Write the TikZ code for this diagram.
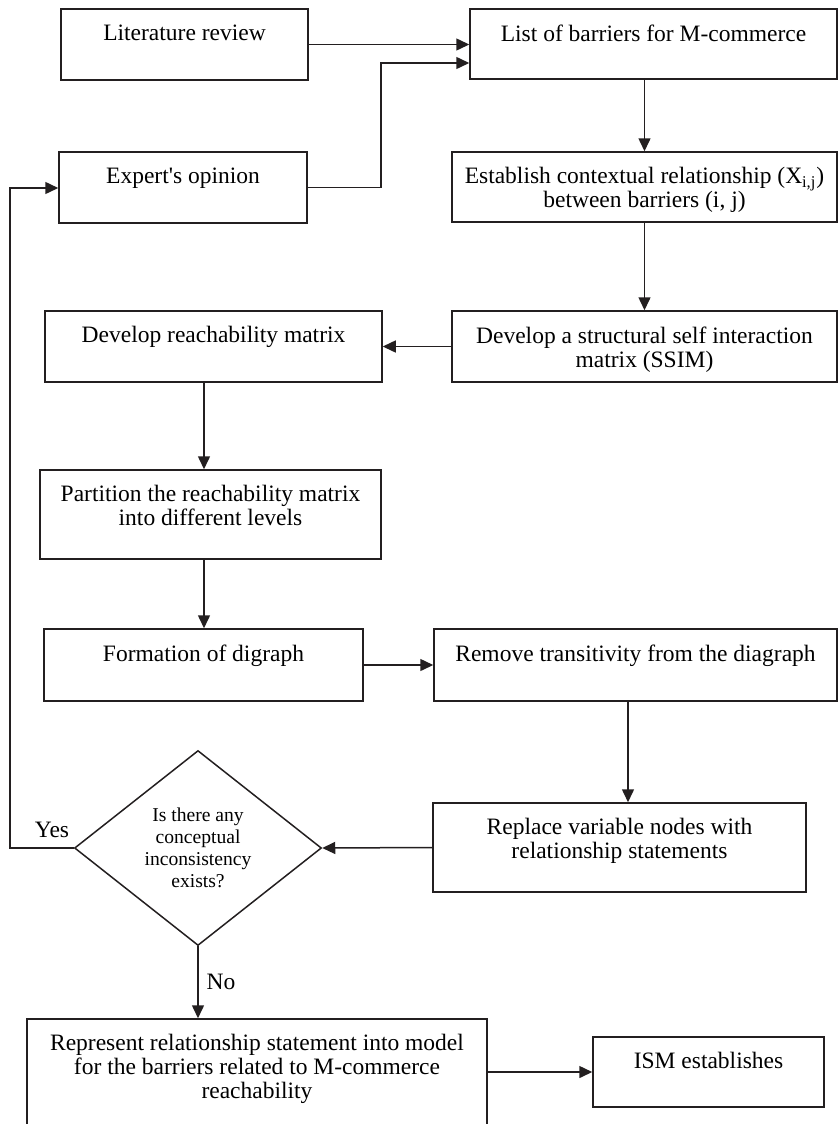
\documentclass[tikz,border=0pt]{standalone}
\usepackage{fontspec}
\setmainfont{Liberation Serif}
\usetikzlibrary{arrows.meta}
\usetikzlibrary{shapes.geometric}
\usetikzlibrary{calc}
\definecolor{ink}{HTML}{231F20}
\tikzstyle{stepbox}=[draw=ink, line width=0.75pt, shape=rectangle, inner sep=0pt]
\tikzstyle{boxtext}=[anchor=north, inner sep=0pt, yshift=-8pt, align=center, text=black, font=\fontsize{11.75}{12}\selectfont]
\tikzstyle{decnode}=[draw=ink, line width=0.75pt, shape=diamond, aspect=1.27, inner sep=0pt, minimum width=123.5pt, minimum height=97.5pt, align=center, font=\fontsize{9.8}{10.9}\selectfont]
\tikzstyle{answer}=[inner sep=0pt, text=black, font=\fontsize{11.75}{12}\selectfont]
\tikzstyle{flow}=[-{Triangle[length=6.5pt, width=6pt]}, line width=0.75pt, draw=ink]

\begin{document}
\begin{tikzpicture}[x=0.5pt, y=-0.5pt]
\useasboundingbox (0,0) rectangle (838,1124);
\clip (0,0) rectangle (838,1124);

\node [stepbox, minimum width=123.5pt, minimum height=35.5pt, label={[boxtext]north:Literature review}] (lit) at (184.5,44.5) {};
\node [stepbox, minimum width=183.5pt, minimum height=35pt, label={[boxtext]north:List of barriers for M-commerce}] (list) at (653.5,44) {};
\node [stepbox, minimum width=124pt, minimum height=35.5pt, label={[boxtext]north:Expert\textquotesingle s opinion}] (expert) at (183,187.5) {};
\node [stepbox, minimum width=192.5pt, minimum height=35pt, label={[boxtext]north:{Establish contextual relationship (X\textsubscript{i,j})\\between barriers (i, j)}}] (est) at (644.5,187) {};
\node [stepbox, minimum width=192.5pt, minimum height=35.5pt, label={[boxtext]north:{Develop a structural self interaction\\matrix (SSIM)}}] (ssim) at (644.5,346.5) {};
\node [stepbox, minimum width=168.5pt, minimum height=35.5pt, label={[boxtext]north:Develop reachability matrix}] (reach) at (213.5,346.5) {};
\node [stepbox, minimum width=170.5pt, minimum height=44.5pt, label={[boxtext]north:{Partition the reachability matrix\\into different levels}}] (part) at (210.5,514.5) {};
\node [stepbox, minimum width=159.5pt, minimum height=36pt, label={[boxtext]north:Formation of digraph}] (form) at (203.5,665) {};
\node [stepbox, minimum width=201.5pt, minimum height=36pt, label={[boxtext]north:Remove transitivity from the diagraph}] (remove) at (635.5,665) {};
\node [decnode] (dec) at (198,848) {Is there any\\conceptual\\inconsistency\\exists?};
\node [stepbox, minimum width=186.5pt, minimum height=44.5pt, label={[boxtext]north:{Replace variable nodes with\\relationship statements}}] (replace) at (619.5,847.5) {};
\node [stepbox, minimum width=230pt, minimum height=60.5pt, label={[boxtext]north:{Represent relationship statement into model\\for the barriers related to M-commerce\\reachability}}] (rep) at (257,1079.5) {};
\node [stepbox, minimum width=115.5pt, minimum height=35pt, label={[boxtext]north:ISM establishes}] (ism) at (708.5,1072) {};

\node [answer] (yes) at (52,830) {Yes};
\node [answer] (no) at (221,982) {No};

\coordinate (bend) at (381,63);
\coordinate (colA) at (204,0);
\coordinate (colB) at (628,0);
\coordinate (back) at (10,188);

\draw[flow] (lit.east) -- (lit.east -| list.west);
\draw[flow] (expert.east) -| (bend) -- (bend -| list.west);
\draw[flow] (est.north |- list.south) -- (est.north);
\draw[flow] (est.south) -- (ssim.north);
\draw[flow] (ssim.west) -- (reach.east);
\draw[flow] (colA |- reach.south) -- (colA |- part.north);
\draw[flow] (colA |- part.south) -- (colA |- form.north);
\draw[flow] (form.east) -- (remove.west);
\draw[flow] (colB |- remove.south) -- (colB |- replace.north);
\draw[flow] (replace.west) -- (dec.east);
\draw[flow] (dec.west) -| (back) -- (back -| expert.west);
\draw[flow] (dec.south) -- (dec.south |- rep.north);
\draw[flow] (rep.east |- ism.west) -- (ism.west);
\end{tikzpicture}
\end{document}
